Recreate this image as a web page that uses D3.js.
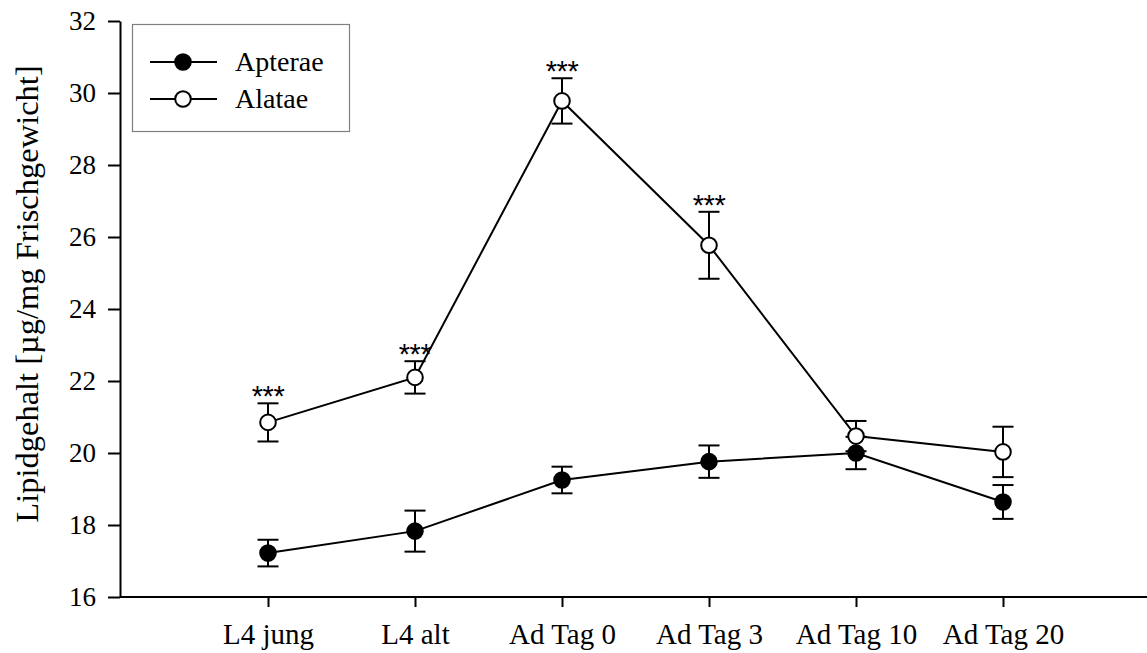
<!DOCTYPE html>
<html><head><meta charset="utf-8">
<script src="https://cdn.jsdelivr.net/npm/d3@7"></script>
<style>
html,body{margin:0;padding:0;background:#fff;}
</style></head>
<body>
<svg id="c" width="1147" height="653"></svg>
<script>
const categories = ["L4 jung","L4 alt","Ad Tag 0","Ad Tag 3","Ad Tag 10","Ad Tag 20"];
const apteraeMean = [17.22, 17.83, 19.25, 19.76, 20.0, 18.64];
const apteraeSE   = [0.37, 0.57, 0.37, 0.45, 0.45, 0.47];
const alataeMean  = [20.85, 22.1, 29.78, 25.77, 20.47, 20.03];
const alataeSE    = [0.53, 0.45, 0.63, 0.93, 0.42, 0.70];
const alataeSig   = ["***","***","***","***","",""];
const yTicks = [16,18,20,22,24,26,28,30,32];
const seriesNames = ["Apterae","Alatae"];

const SERIF = "'Liberation Serif','Times New Roman',serif";
const SANS = "'Liberation Sans',Arial,sans-serif";
const svg = d3.select("#c");
const x = d3.scaleLinear().domain([-1, 6]).range([121, 1150]);
const y = d3.scaleLinear().domain([16, 32]).range([597, 21]);

// axes
const xAxis = d3.axisBottom(x).tickValues(d3.range(categories.length))
  .tickFormat(i => categories[i]).tickSizeInner(10).tickSizeOuter(0).tickPadding(16);
const gx = svg.append("g").attr("transform","translate(0,597)").call(xAxis);
gx.attr("font-family",SERIF).attr("font-size",29);
gx.select(".domain").attr("stroke-width",2).attr("d","M120,0H1147");
gx.selectAll(".tick line").attr("stroke-width",2);
gx.selectAll("text").attr("fill","#000");

const yAxis = d3.axisLeft(y).tickValues(yTicks).tickSizeInner(12).tickSizeOuter(0).tickPadding(12);
const gy = svg.append("g").attr("transform","translate(120,0)").call(yAxis);
gy.attr("font-family",SERIF).attr("font-size",27);
gy.select(".domain").attr("stroke-width",2);
gy.selectAll(".tick line").attr("stroke-width",2);
gy.selectAll("text").attr("fill","#000");

svg.append("text").attr("transform","translate(38,294) rotate(-90)")
  .attr("text-anchor","middle").attr("font-family",SERIF).attr("font-size",32.5)
  .text("Lipidgehalt [µg/mg Frischgewicht]");

const line = d3.line().x((d,i)=>x(i)).y(d=>y(d));
const series = [
  {name:seriesNames[0], mean:apteraeMean, se:apteraeSE, fill:"#000"},
  {name:seriesNames[1], mean:alataeMean, se:alataeSE, fill:"#fff"}
];
series.forEach(s=>{
  svg.append("path").datum(s.mean).attr("d",line).attr("fill","none")
    .attr("stroke","#000").attr("stroke-width",2);
});
series.forEach(s=>{
  const g = svg.append("g");
  s.mean.forEach((m,i)=>{
    const cx = x(i), t = y(m + s.se[i]), b = y(m - s.se[i]);
    g.append("line").attr("x1",cx).attr("x2",cx).attr("y1",t).attr("y2",b).attr("stroke","#000").attr("stroke-width",2);
    g.append("line").attr("x1",cx-10.5).attr("x2",cx+10.5).attr("y1",t).attr("y2",t).attr("stroke","#000").attr("stroke-width",2);
    g.append("line").attr("x1",cx-10.5).attr("x2",cx+10.5).attr("y1",b).attr("y2",b).attr("stroke","#000").attr("stroke-width",2);
  });
});
series.forEach(s=>{
  svg.append("g").selectAll("circle").data(s.mean).join("circle")
    .attr("cx",(d,i)=>x(i)).attr("cy",d=>y(d)).attr("r",7.8)
    .attr("fill",s.fill).attr("stroke","#000").attr("stroke-width",2);
});
// significance
svg.append("g").selectAll("text").data(alataeMean).join("text")
  .attr("x",(d,i)=>x(i)).attr("y",(d,i)=>y(d+alataeSE[i]) + 3)
  .attr("text-anchor","middle").attr("font-family",SANS).attr("font-size",29)
  .attr("letter-spacing",-0.5)
  .text((d,i)=>alataeSig[i]);

// legend
const lg = svg.append("g");
lg.append("rect").attr("x",132.5).attr("y",24.5).attr("width",217).attr("height",107)
  .attr("fill","#fff").attr("stroke","#808080").attr("stroke-width",1.2);
series.forEach((s,k)=>{
  const ly = 62 + k*37;
  lg.append("line").attr("x1",150).attr("x2",217).attr("y1",ly).attr("y2",ly).attr("stroke","#000").attr("stroke-width",2);
  lg.append("circle").attr("cx",183).attr("cy",ly).attr("r",7.8).attr("fill",s.fill).attr("stroke","#000").attr("stroke-width",2);
  lg.append("text").attr("x",235).attr("y",ly+9).attr("font-family",SERIF).attr("font-size",28).text(s.name);
});
</script>
</body></html>
